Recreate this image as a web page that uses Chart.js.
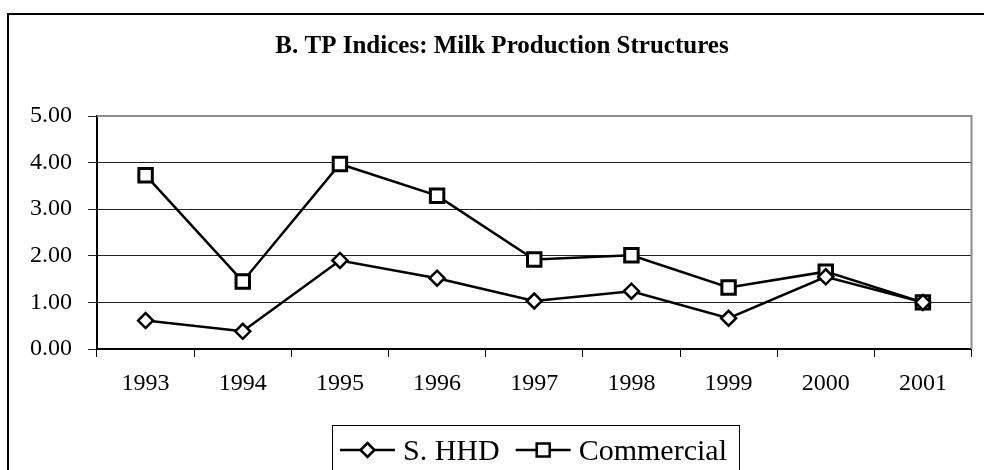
<!DOCTYPE html>
<html>
<head>
<meta charset="utf-8">
<script src="https://cdn.jsdelivr.net/npm/chart.js@4.4.1/dist/chart.umd.min.js"></script>
<style>
  html, body { margin: 0; padding: 0; background: #fff; }
  #wrap { width: 984px; height: 470px; position: relative; }
</style>
</head>
<body>
<div id="wrap"><canvas id="tpChart" width="984" height="470"></canvas></div>
<script>
// data
const years = ['1993', '1994', '1995', '1996', '1997', '1998', '1999', '2000', '2001'];
const shhd = [0.61, 0.38, 1.90, 1.52, 1.03, 1.24, 0.66, 1.55, 1.00];
const commercial = [3.73, 1.45, 3.97, 3.29, 1.92, 2.01, 1.32, 1.66, 1.00];
const titleText = 'B. TP Indices: Milk Production Structures';

const serif = '"Liberation Serif", "Times New Roman", serif';

// outer frame, title, plot border and boxed legend
const decor = {
    id: 'decor',
    beforeDraw(chart) {
        const c = chart.ctx;
        c.save();
        c.fillStyle = '#fff';
        c.fillRect(0, 0, chart.width, chart.height);
        c.strokeStyle = '#000';
        c.lineWidth = 2;
        c.beginPath();
        c.moveTo(8, chart.height + 2);
        c.lineTo(8, 14);
        c.lineTo(chart.width + 2, 14);
        c.stroke();
        c.restore();
    },
    afterDraw(chart) {
        const c = chart.ctx;
        const a = chart.chartArea;
        c.save();
        // title
        c.fillStyle = '#000';
        c.font = 'bold 25px ' + serif;
        c.textAlign = 'center';
        c.textBaseline = 'alphabetic';
        c.fillText(titleText, 502, 53);

        // grey top / right plot border
        c.strokeStyle = '#8c8c8c';
        c.lineWidth = 2;
        c.beginPath();
        c.moveTo(a.left, a.top);
        c.lineTo(a.right, a.top);
        c.lineTo(a.right, a.bottom);
        c.stroke();

        // legend
        c.font = '30px ' + serif;
        c.textAlign = 'left';
        c.textBaseline = 'middle';
        const boxLeft = 332, boxTop = 425, ly = 450;
        let x = boxLeft + 8;
        chart.data.datasets.forEach((ds, i) => {
            c.strokeStyle = '#000';
            c.lineWidth = 2.5;
            c.beginPath();
            c.moveTo(x, ly);
            c.lineTo(x + 55, ly);
            c.stroke();
            const mx = x + 27.5;
            c.fillStyle = '#fff';
            c.beginPath();
            if (ds.pointStyle === 'rectRot') {
                c.moveTo(mx, ly - 7);
                c.lineTo(mx + 7, ly);
                c.lineTo(mx, ly + 7);
                c.lineTo(mx - 7, ly);
                c.closePath();
            } else {
                c.rect(mx - 6.5, ly - 6.5, 13, 13);
            }
            c.fill();
            c.stroke();
            x += 63;
            c.fillStyle = '#000';
            c.fillText(ds.label, x, ly + 2);
            x += c.measureText(ds.label).width + 16;
        });
        c.strokeStyle = '#000';
        c.lineWidth = 1;
        c.strokeRect(boxLeft + 0.5, boxTop + 0.5, x - 16 + 12 - boxLeft, 80);
        c.restore();
    }
};

const ctx = document.getElementById('tpChart').getContext('2d');
new Chart(ctx, {
    type: 'line',
    data: {
        labels: years,
        datasets: [{
            label: 'S. HHD',
            data: shhd,
            borderColor: '#000',
            borderWidth: 2.5,
            pointStyle: 'rectRot',
            pointRadius: 7.5,
            pointBorderWidth: 2.5,
            pointBackgroundColor: '#fff',
            pointBorderColor: '#000',
            tension: 0,
            fill: false
        }, {
            label: 'Commercial',
            data: commercial,
            borderColor: '#000',
            borderWidth: 2.5,
            pointStyle: 'rect',
            pointRadius: 9.5,
            pointBorderWidth: 3,
            pointBackgroundColor: '#fff',
            pointBorderColor: '#000',
            tension: 0,
            fill: false
        }]
    },
    options: {
        responsive: false,
        animation: false,
        events: [],
        layout: {
            padding: { top: 116, right: 10, bottom: 0, left: 0 }
        },
        scales: {
            x: {
                offset: true,
                afterFit(scale) { scale.height = 121; },
                grid: {
                    offset: true,
                    drawOnChartArea: false,
                    drawTicks: true,
                    tickLength: 8,
                    color: '#000',
                    lineWidth: 1
                },
                border: { color: '#000', width: 2 },
                ticks: {
                    color: '#000',
                    padding: 12,
                    maxRotation: 0,
                    font: { family: serif, size: 24 }
                }
            },
            y: {
                min: 0,
                max: 5,
                afterFit(scale) { scale.width = 97; },
                grid: {
                    color: '#222',
                    lineWidth: 1,
                    drawTicks: true,
                    tickLength: 9
                },
                border: { color: '#000', width: 2 },
                ticks: {
                    stepSize: 1,
                    color: '#000',
                    padding: 16,
                    font: { family: serif, size: 24 },
                    callback: v => v.toFixed(2)
                }
            }
        },
        plugins: {
            legend: { display: false },
            title: { display: false },
            tooltip: { enabled: false }
        }
    },
    plugins: [decor]
});
</script>
</body>
</html>
